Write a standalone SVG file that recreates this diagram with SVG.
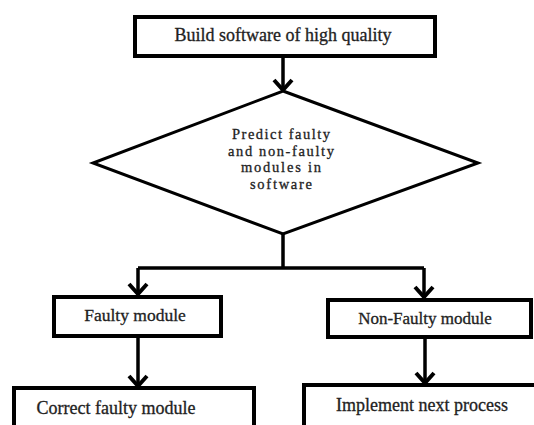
<svg xmlns="http://www.w3.org/2000/svg" width="534" height="425" viewBox="0 0 534 425">
<style>
.box{fill:#fff;stroke:#000;stroke-width:4}
.dia{fill:#fff;stroke:#000;stroke-width:3}
.ln{fill:none;stroke:#000;stroke-width:3.5}
.hd{fill:none;stroke:#000;stroke-width:4;stroke-linejoin:miter}
.t{font-family:'Liberation Serif','DejaVu Serif',serif;fill:#222;text-anchor:middle;stroke:#222;stroke-width:0.3}
</style>
<rect width="534" height="425" fill="#fff"/>
<g id="connectors">
<path class="ln" d="M283 56 V90"/>
<path class="hd" d="M274 80 L283 90 L292 80"/>
<path class="ln" d="M283 233 V268 M138 268 H424 M138 268 V294"/>
<path class="ln" d="M424 268 V297"/>
<path class="hd" d="M129 284 L138 294 L147 284"/>
<path class="hd" d="M415 287 L424 297 L433 287"/>
<path class="ln" d="M138 336 V386"/>
<path class="hd" d="M129 376 L138 386 L147 376"/>
<path class="ln" d="M425 337 V383"/>
<path class="hd" d="M416 373 L425 383 L434 373"/>
</g>
<g id="n1">
<rect class="box" x="135" y="17" width="300" height="39"/>
<text class="t" x="283" y="41" font-size="18">Build software of high quality</text>
</g>
<g id="n2">
<polygon class="dia" points="283,91 478,163 283,234 93,163"/>
<text class="t" x="281" y="139" font-size="14.5" textLength="98" lengthAdjust="spacing">Predict faulty</text>
<text class="t" x="281" y="155.5" font-size="14.5" textLength="106" lengthAdjust="spacing">and non-faulty</text>
<text class="t" x="281" y="172" font-size="14.5" textLength="80" lengthAdjust="spacing">modules in</text>
<text class="t" x="281" y="188.5" font-size="14.5" textLength="62" lengthAdjust="spacing">software</text>
</g>
<g id="n3">
<rect class="box" x="54" y="297" width="167" height="39"/>
<text class="t" x="135" y="321" font-size="17.5">Faulty module</text>
</g>
<g id="n4">
<rect class="box" x="328" y="300" width="203" height="37"/>
<text class="t" x="425" y="324" font-size="17">Non-Faulty module</text>
</g>
<g id="n5">
<rect class="box" x="14" y="388" width="240" height="50"/>
<text class="t" x="116" y="414" font-size="18">Correct faulty module</text>
</g>
<g id="n6">
<rect class="box" x="304" y="385" width="240" height="50"/>
<text class="t" x="422" y="411" font-size="18">Implement next process</text>
</g>
</svg>
